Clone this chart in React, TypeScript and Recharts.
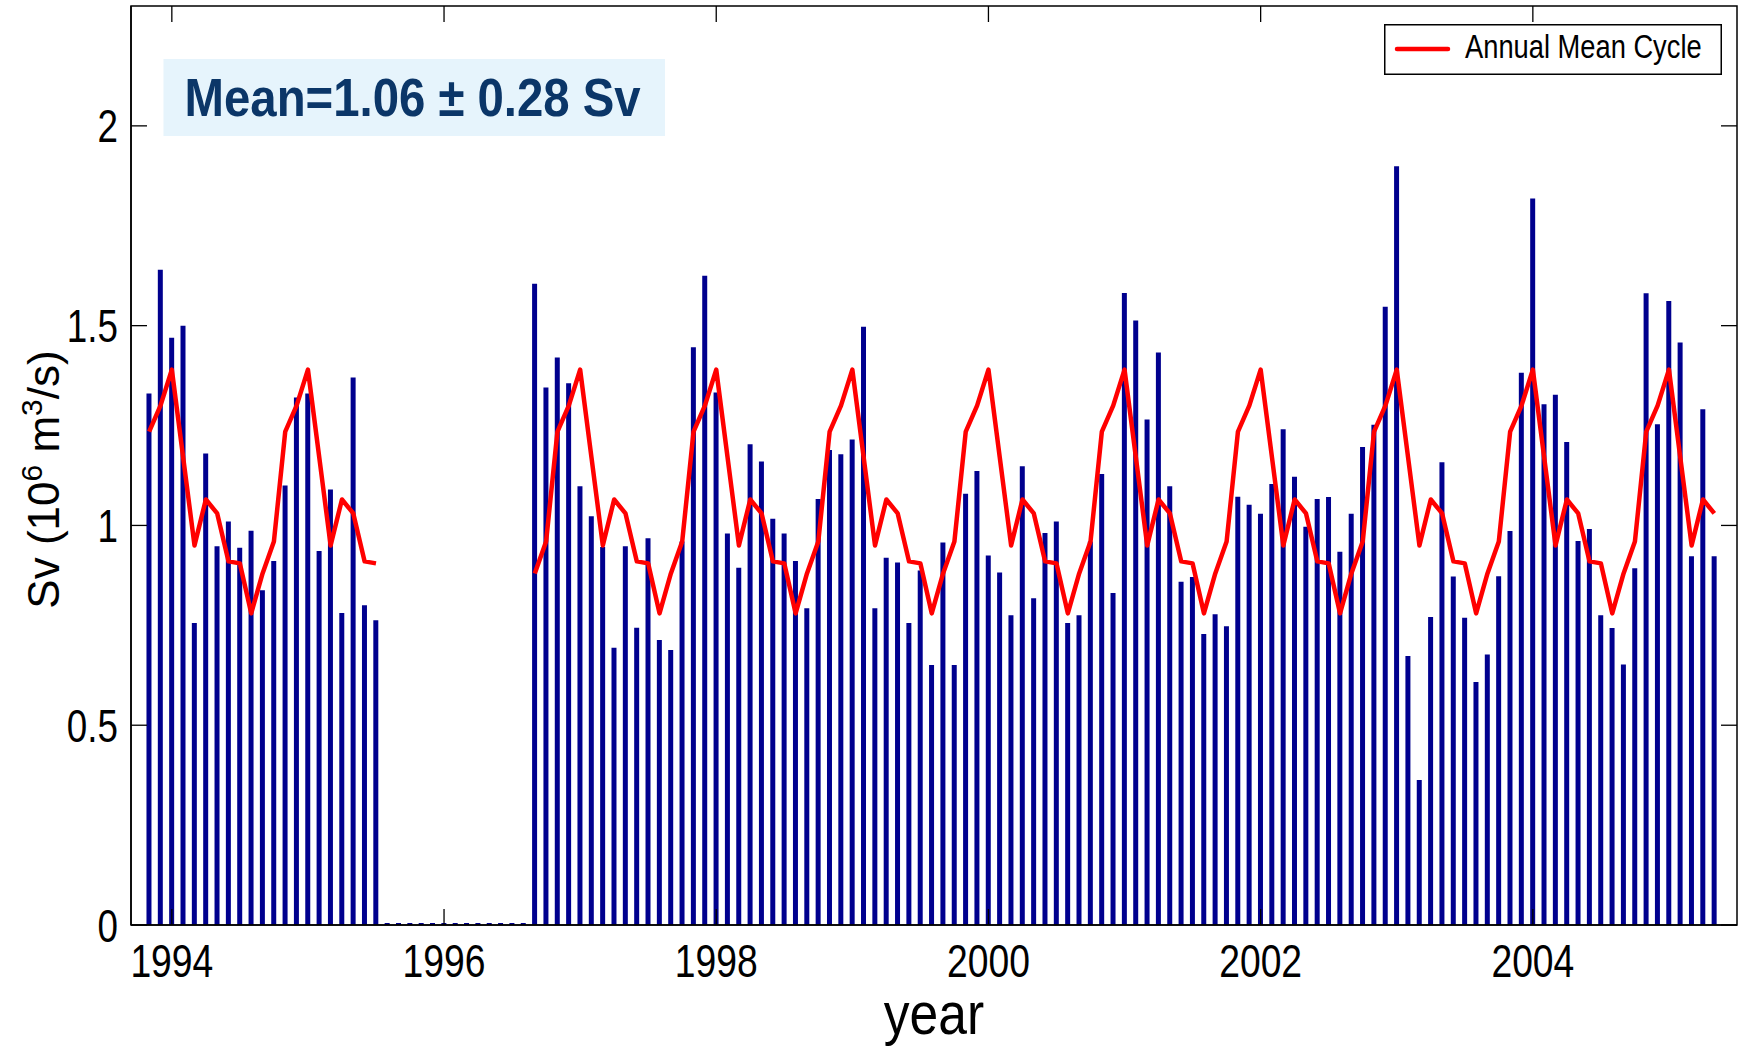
import React from 'react';
import { ComposedChart, Bar, Line, XAxis, YAxis, Legend } from 'recharts';

// ---- layout ----
const WIDTH = 1744;
const HEIGHT = 1047;
const MARGIN = { top: 6, right: 7, bottom: 0, left: 0 };
const Y_AXIS_W = 131;
const X_AXIS_H = 122;
const PLOT_LEFT = MARGIN.left + Y_AXIS_W;
const PLOT_RIGHT = WIDTH - MARGIN.right;
const PLOT_TOP = MARGIN.top;
const PLOT_BOTTOM = HEIGHT - X_AXIS_H;
const TICK_LEN = 16;
const FONT = '"Liberation Sans", Arial, Helvetica, sans-serif';

// ---- axes ----
const X_DOMAIN = [1993.7, 2005.5];
const Y_DOMAIN = [0, 2.3];
const YEAR_TICKS = [1994, 1996, 1998, 2000, 2002, 2004];
const FLOW_TICKS = [0, 0.5, 1, 1.5, 2];

// ---- data (Sv) ----
// Annual mean cycle, Jan..Dec
const MEAN_CYCLE = [1.39, 1.17, 0.95, 1.065, 1.03, 0.91, 0.905, 0.78, 0.88, 0.96, 1.235, 1.3];

// First record: Nov 1993 - Jul 1995
const RECORD_1_START = { year: 1993, month: 11 };
const RECORD_1 = [
  1.33, 1.64,
  1.47, 1.5, 0.756, 1.18, 0.948, 1.01, 0.944, 0.987, 0.838, 0.911, 1.1, 1.32,
  1.33, 0.936, 1.09, 0.781, 1.37, 0.8, 0.763,
];

// No data: Aug 1995 - Aug 1996
const GAP_START = { year: 1995, month: 8 };
const GAP_MONTHS = 13;

// Second record: Sep 1996 - May 2005
const RECORD_2_START = { year: 1996, month: 9 };
const RECORD_2 = [
  1.605, 1.345, 1.42, 1.356,
  1.098, 1.023, 0.946, 0.694, 0.948, 0.744, 0.968, 0.713, 0.688, 0.96, 1.446, 1.625,
  1.333, 0.98, 0.894, 1.203, 1.16, 1.017, 0.98, 0.911, 0.793, 1.066, 1.189, 1.178,
  1.215, 1.497, 0.793, 0.919, 0.907, 0.756, 0.887, 0.651, 0.957, 0.651, 1.079, 1.136,
  0.925, 0.882, 0.775, 1.148, 0.818, 0.981, 1.01, 0.756, 0.775, 0.96, 1.129, 0.831,
  1.582, 1.513, 1.265, 1.433, 1.098, 0.859, 0.871, 0.728, 0.778, 0.748, 1.072, 1.052,
  1.029, 1.104, 1.241, 1.122, 0.997, 1.066, 1.071, 0.934, 1.029, 1.196, 1.252, 1.547,
  1.899, 0.673, 0.363, 0.771, 1.158, 0.872, 0.769, 0.608, 0.677, 0.873, 0.986, 1.382,
  1.818, 1.303, 1.327, 1.209, 0.961, 0.991, 0.775, 0.743, 0.652, 0.893, 1.581, 1.253,
  1.562, 1.458, 0.923, 1.291, 0.923,
];

type Row = { t: number; flow: number; cycle: number | null };

function monthlyRows(start: { year: number; month: number }, values: number[], withCycle: boolean): Row[] {
  return values.map((v, i) => {
    const m = start.month - 1 + i;
    const year = start.year + Math.floor(m / 12);
    const month = m % 12;
    return { t: year + month / 12, flow: v, cycle: withCycle ? MEAN_CYCLE[month] : null };
  });
}

const DATA: Row[] = [
  ...monthlyRows(RECORD_1_START, RECORD_1, true),
  ...monthlyRows(GAP_START, new Array(GAP_MONTHS).fill(0), false),
  ...monthlyRows(RECORD_2_START, RECORD_2, true),
];

// ---- ticks (inward marks on both sides of the frame) ----
const YearTick = (props: any) => {
  const { x, payload } = props;
  return (
    <g>
      <line x1={x} x2={x} y1={PLOT_BOTTOM} y2={PLOT_BOTTOM - TICK_LEN} stroke="#000" strokeWidth={1.3} />
      <line x1={x} x2={x} y1={PLOT_TOP} y2={PLOT_TOP + TICK_LEN} stroke="#000" strokeWidth={1.3} />
      <text
        transform={`translate(${x},${PLOT_BOTTOM + 52}) scale(0.81,1)`}
        textAnchor="middle"
        fontSize={46}
        fontFamily={FONT}
        fill="#000"
      >
        {payload.value}
      </text>
    </g>
  );
};

const FlowTick = (props: any) => {
  const { y, payload } = props;
  return (
    <g>
      <line x1={PLOT_LEFT} x2={PLOT_LEFT + TICK_LEN} y1={y} y2={y} stroke="#000" strokeWidth={1.3} />
      <line x1={PLOT_RIGHT} x2={PLOT_RIGHT - TICK_LEN} y1={y} y2={y} stroke="#000" strokeWidth={1.3} />
      <text
        transform={`translate(${PLOT_LEFT - 13},${y + 16.5}) scale(0.8,1)`}
        textAnchor="end"
        fontSize={46}
        fontFamily={FONT}
        fill="#000"
      >
        {String(payload.value)}
      </text>
    </g>
  );
};

const XTitle = (props: any) => {
  const vb = props.viewBox || { x: PLOT_LEFT, width: PLOT_RIGHT - PLOT_LEFT };
  const cx = vb.x + vb.width / 2;
  return (
    <text
      transform={`translate(${cx},${HEIGHT - 13}) scale(0.86,1)`}
      textAnchor="middle"
      fontSize={60}
      fontFamily={FONT}
      fill="#000"
    >
      year
    </text>
  );
};

const YTitle = () => {
  const cy = (PLOT_TOP + PLOT_BOTTOM) / 2 + 14;
  return (
    <text
      transform={`translate(59,${cy}) rotate(-90)`}
      textAnchor="middle"
      fontSize={44}
      fontFamily={FONT}
      fill="#000"
    >
      Sv (10
      <tspan dy={-17} fontSize={30}>6</tspan>
      <tspan dy={17}> m</tspan>
      <tspan dy={-17} fontSize={30}>3</tspan>
      <tspan dy={17}>/s)</tspan>
    </text>
  );
};

const LegendBox = (props: any) => {
  const items = (props.payload || []).filter((p: any) => p.type !== 'none');
  return (
    <svg width={338} height={51} style={{ display: 'block', overflow: 'visible' }}>
      <rect x={0.75} y={0.75} width={336.5} height={49.5} fill="#fff" stroke="#000" strokeWidth={1.5} />
      {items.map((p: any, i: number) => (
        <g key={i} transform={`translate(0,${i * 40})`}>
          <line x1={13} x2={64} y1={25} y2={25} stroke={p.color} strokeWidth={4.5} strokeLinecap="round" />
          <text
            transform="translate(81,33.5) scale(0.815,1)"
            fontSize={33.5}
            fontFamily={FONT}
            fill="#000"
          >
            {p.value}
          </text>
        </g>
      ))}
    </svg>
  );
};

export default function App() {
  return (
    <div style={{ position: 'absolute', left: 0, top: 0, width: WIDTH, height: HEIGHT, background: '#fff' }}>
      <ComposedChart width={WIDTH} height={HEIGHT} data={DATA} margin={MARGIN}>
        <XAxis
          dataKey="t"
          type="number"
          domain={X_DOMAIN}
          ticks={YEAR_TICKS}
          height={X_AXIS_H}
          allowDataOverflow
          tickLine={false}
          axisLine={{ stroke: '#000', strokeWidth: 1.5 }}
          tick={<YearTick />}
          label={{ content: (p: any) => <XTitle {...p} /> }}
        />
        <YAxis
          type="number"
          domain={Y_DOMAIN}
          ticks={FLOW_TICKS}
          width={Y_AXIS_W}
          allowDataOverflow
          tickLine={false}
          axisLine={{ stroke: '#000', strokeWidth: 1.5 }}
          tick={<FlowTick />}
          label={{ content: () => <YTitle /> }}
        />
        <Bar
          dataKey="flow"
          fill="#00008e"
          barSize={5}
          minPointSize={2}
          legendType="none"
          isAnimationActive={false}
        />
        <Line
          dataKey="cycle"
          name="Annual Mean Cycle"
          stroke="#ff0000"
          strokeWidth={4.5}
          strokeLinejoin="round"
          dot={false}
          activeDot={false}
          connectNulls={false}
          legendType="line"
          isAnimationActive={false}
        />
        <Legend
          layout="horizontal"
          verticalAlign="middle"
          align="center"
          wrapperStyle={{ left: 1384, top: 24, width: 338, height: 51 }}
          content={<LegendBox />}
        />
      </ComposedChart>
      <svg
        width={WIDTH}
        height={HEIGHT}
        style={{ position: 'absolute', left: 0, top: 0, pointerEvents: 'none' }}
      >
        {/* plot frame */}
        <rect
          x={PLOT_LEFT}
          y={PLOT_TOP}
          width={PLOT_RIGHT - PLOT_LEFT}
          height={PLOT_BOTTOM - PLOT_TOP}
          fill="none"
          stroke="#000"
          strokeWidth={1.5}
        />
        <rect x={163.5} y={59} width={501.5} height={77} fill="#e6f4fc" />
        <text
          transform="translate(184.6,115.7) scale(0.893,1)"
          fontSize={53}
          fontWeight="bold"
          fontFamily={FONT}
          fill="#0b3668"
        >
          Mean=1.06 ± 0.28 Sv
        </text>
      </svg>
    </div>
  );
}
